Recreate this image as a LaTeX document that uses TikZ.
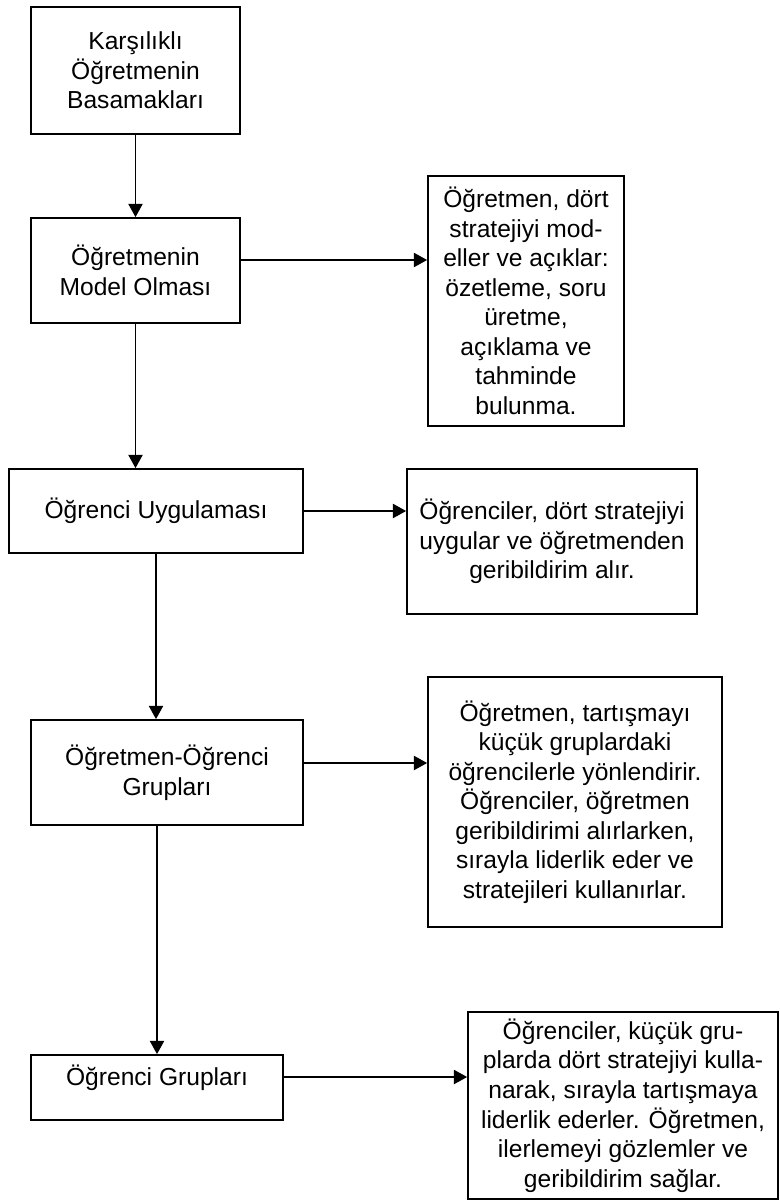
\documentclass[tikz,border=0pt]{standalone}
\usepackage{fontspec}
\setmainfont{Liberation Sans}
\usepackage{tikz}
\usetikzlibrary{calc,positioning}
\usetikzlibrary{arrows.meta}
\tikzset{>={Triangle[width=8pt,length=7.5pt]}}

\begin{document}
\begin{tikzpicture}[x=0.02cm,y=-0.02cm]
          \tikzstyle{snode} = [draw=black, line width=1pt, rectangle, inner sep=2pt, align=center, font=\fontsize{14}{16.8}\selectfont]
          \tikzstyle{dnode} = [snode]
          \tikzstyle{conn} = [->, line width=1pt]
          \useasboundingbox (0,0) rectangle (779,1202);

          % stages on the left
          \node[snode, minimum width=4.18cm, minimum height=2.54cm] (bas) at (135.5,70.5) {Karşılıklı\\Öğretmenin\\Basamakları};
          \node[snode, minimum width=4.18cm, minimum height=2.10cm] (mod) at (135.5,270.5) {Öğretmenin\\Model Olması};
          \node[snode, minimum width=5.88cm, minimum height=1.68cm] (uyg) at (156,511) {Öğrenci Uygulaması};
          \node[snode, minimum width=5.44cm, minimum height=2.10cm] (ogr) at (167,772.5) {Öğretmen-Öğrenci\\Grupları};
          \node[snode, minimum width=5.04cm, minimum height=1.30cm, text height=12.5pt, text depth=14.5pt] (grp) at (157,1087.5) {Öğrenci Grupları};

          % descriptions on the right
          \node[dnode, minimum width=3.92cm, minimum height=5.00cm] (dmod) at (526,301) {Öğretmen, dört\\stratejiyi mod-\\eller ve açıklar:\\özetleme, soru\\üretme,\\açıklama ve\\tahminde\\bulunma.};
          \node[dnode, minimum width=5.80cm, minimum height=2.90cm] (duyg) at (552,541.5) {Öğrenciler, dört stratejiyi\\uygular ve öğretmenden\\geribildirim alır.};
          \node[dnode, minimum width=5.88cm, minimum height=5.00cm] (dogr) at (575,802) {Öğretmen, tartışmayı\\küçük gruplardaki\\öğrencilerle yönlendirir.\\Öğrenciler, öğretmen\\geribildirimi alırlarken,\\sırayla liderlik eder ve\\stratejileri kullanırlar.};
          \node[dnode, minimum width=6.20cm, minimum height=3.74cm] (dgrp) at (623,1105.5) {Öğrenciler, küçük gru-\\plarda dört stratejiyi kulla-\\narak, sırayla tartışmaya\\liderlik ederler. Öğretmen,\\ilerlemeyi gözlemler ve\\geribildirim sağlar.};

          % vertical flow
          \draw[conn] (bas) to (mod);
          \draw[conn] (mod.south) to (mod.south |- uyg.north);
          \draw[conn] (uyg.south) to (uyg.south |- ogr.north);
          \draw[conn] (ogr.south -| grp.north) to (grp.north);

          % links to descriptions
          \draw[conn] ([yshift=0.21cm]mod.east) coordinate (m1) to (m1 -| dmod.west);
          \draw[conn] (uyg.east) to (uyg.east -| duyg.west);
          \draw[conn] ([yshift=0.19cm]ogr.east) coordinate (m3) to (m3 -| dogr.west);
          \draw[conn] ([yshift=0.21cm]grp.east) coordinate (m4) to (m4 -| dgrp.west);
        \end{tikzpicture}
\end{document}
